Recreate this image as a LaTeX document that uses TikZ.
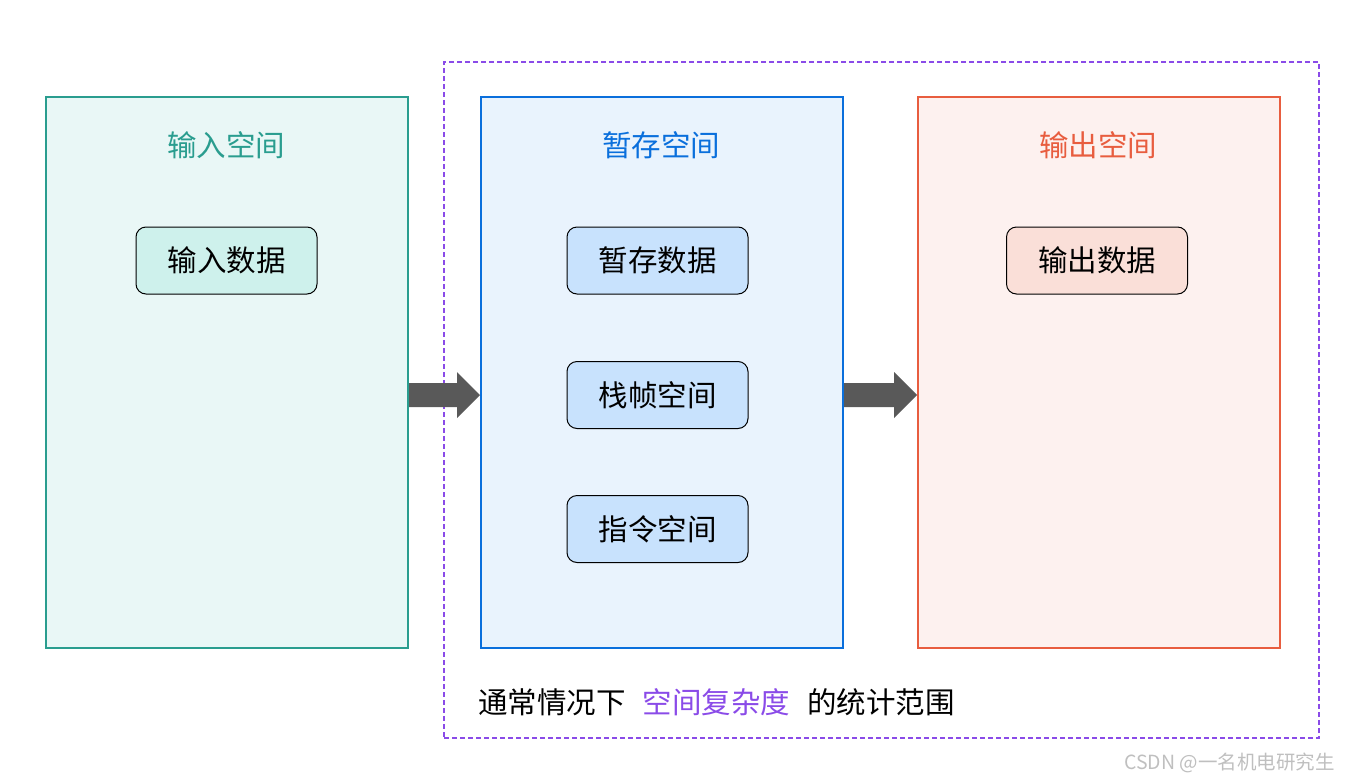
\documentclass[tikz,border=0pt]{standalone}
\usepackage{fontspec}
\newfontfamily\cjk{Noto Sans CJK SC}
\definecolor{tealS}{HTML}{2A9D8F}
\definecolor{tealF}{HTML}{E9F7F6}
\definecolor{tealI}{HTML}{CEF1EC}
\definecolor{blueS}{HTML}{0A6FDC}
\definecolor{blueF}{HTML}{E9F3FD}
\definecolor{blueI}{HTML}{C8E2FD}
\definecolor{redS}{HTML}{E85D3F}
\definecolor{redF}{HTML}{FDF1EF}
\definecolor{redI}{HTML}{FADFD8}
\definecolor{purp}{HTML}{8A4BE8}
\definecolor{arrowG}{HTML}{595959}
\begin{document}
\begin{tikzpicture}[x=1pt,y=-1pt,
  font=\cjk\fontsize{29.5}{34}\selectfont,
  space/.style={draw=#1,line width=2pt,minimum width=362pt,minimum height=551pt,anchor=north west,inner sep=0pt},
  item/.style={draw=black,fill=#1,rounded corners=10pt,minimum width=181pt,minimum height=67pt,line width=1pt,inner sep=0pt},
  flow/.style={fill=arrowG}
]
\useasboundingbox (0,0) rectangle (1350,782);
\node[draw=purp,line width=2pt,dash pattern=on 5pt off 3pt,minimum width=875pt,minimum height=676pt,anchor=north west,inner sep=0pt] (range) at (443,61) {};
\node[space=tealS,fill=tealF] (in) at (45,96) {};
\node[space=blueS,fill=blueF] (tmp) at (480,96) {};
\node[space=redS,fill=redF] (out) at (917,96) {};
\node[text=tealS] (tin) at (226,145) {输入空间};
\node[text=blueS] (ttmp) at (661,145) {暂存空间};
\node[text=redS] (tout) at (1098,145) {输出空间};
\node[item=tealI] (d1) at (226.5,260.5) {输入数据};
\node[item=blueI] (d2) at (657.5,260.5) {暂存数据};
\node[item=blueI] (d3) at (657.5,395) {栈帧空间};
\node[item=blueI] (d4) at (657.5,529) {指令空间};
\node[item=redI] (d5) at (1097,260.5) {输出数据};
\coordinate (a1s) at (in.east |- 0,395);
\coordinate (a1e) at (tmp.west |- 0,395);
\coordinate (a2s) at (tmp.east |- 0,395);
\coordinate (a2e) at (out.west |- 0,395);
\fill[flow] ([yshift=-12pt]a1s) -- ([xshift=-23pt,yshift=-12pt]a1e) -- ([xshift=-23pt,yshift=-23pt]a1e) -- (a1e) -- ([xshift=-23pt,yshift=23pt]a1e) -- ([xshift=-23pt,yshift=12pt]a1e) -- ([yshift=12pt]a1s) -- cycle;
\fill[flow] ([yshift=-12pt]a2s) -- ([xshift=-23pt,yshift=-12pt]a2e) -- ([xshift=-23pt,yshift=-23pt]a2e) -- (a2e) -- ([xshift=-23pt,yshift=23pt]a2e) -- ([xshift=-23pt,yshift=12pt]a2e) -- ([yshift=12pt]a2s) -- cycle;
\node[anchor=west,inner sep=0pt] (cap) at (478,702) {通常情况下\hspace{17pt}\textcolor{purp}{空间复杂度}\hspace{17pt}的统计范围};
\node[anchor=east,inner sep=0pt,text=black!25,font=\cjk\fontsize{19.5}{22}\selectfont] (wm) at (1335,763) {CSDN @一名机电研究生};
\end{tikzpicture}
\end{document}
